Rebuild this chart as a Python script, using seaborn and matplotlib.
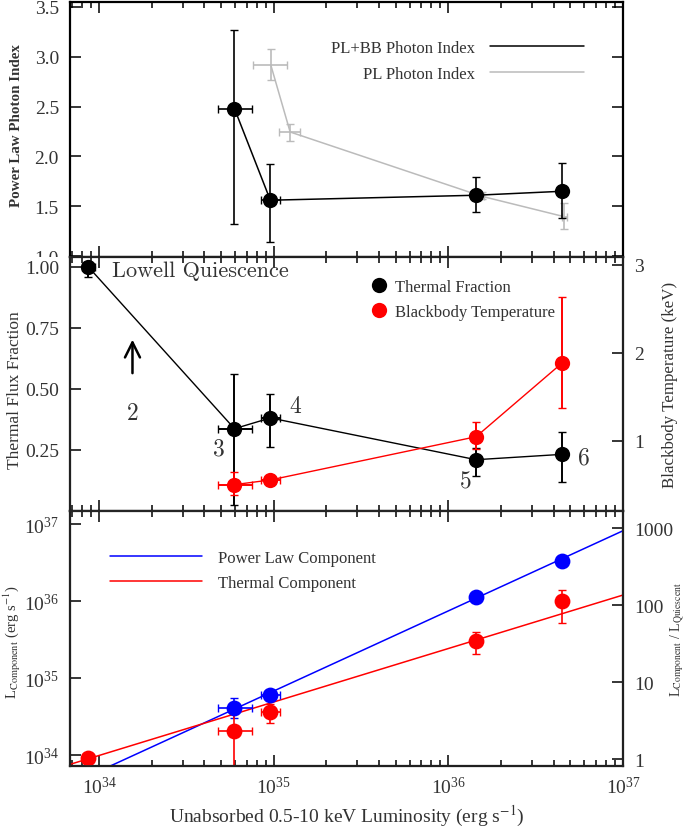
import matplotlib
matplotlib.use("Agg")
import numpy as np
import matplotlib.pyplot as plt
import matplotlib.ticker as mticker
from matplotlib.lines import Line2D
from matplotlib.transforms import Bbox, TransformedBbox
import seaborn as sns

sns.set_theme(style="ticks")
plt.rcParams['font.family'] = ['Liberation Serif', 'DejaVu Serif']
plt.rcParams['mathtext.fontset'] = 'stix'
plt.rcParams['text.color'] = '#333333'
plt.rcParams['axes.labelcolor'] = '#333333'
plt.rcParams['xtick.color'] = 'black'
plt.rcParams['ytick.color'] = 'black'
plt.rcParams['xtick.labelcolor'] = '#333333'
plt.rcParams['ytick.labelcolor'] = '#333333'

# ---- data ----
# unabsorbed 0.5-10 keV luminosity of observations 1, 3, 4, 5, 6
lum = [8.65e33, 5.95e34, 9.55e34, 1.44e36, 4.49e36]
lum_lo = [8.0e33, 4.78e34, 8.4e34, 1.41e36, 4.42e36]
lum_hi = [9.5e33, 7.45e34, 1.08e35, 1.47e36, 4.56e36]

# top: PL+BB photon index (obs 3-6)
gamma_plbb = [2.48, 1.56, 1.61, 1.65]
gamma_plbb_lo = [1.32, 1.14, 1.44, 1.38]
gamma_plbb_hi = [3.27, 1.92, 1.79, 1.93]

# top: PL-only photon index
pl_lum = [9.6e34, 1.24e35, 1.55e36, 4.6e36]
pl_lum_lo = [7.6e34, 1.07e35, 1.50e36, 4.45e36]
pl_lum_hi = [1.19e35, 1.41e35, 1.60e36, 4.75e36]
gamma_pl = [2.92, 2.245, 1.60, 1.395]
gamma_pl_lo = [2.77, 2.15, 1.57, 1.27]
gamma_pl_hi = [3.08, 2.33, 1.64, 1.53]

# middle: thermal flux fraction (obs 1, 3-6) and blackbody kT (obs 3-6)
therm_frac = [1.00, 0.337, 0.381, 0.210, 0.232]
therm_frac_lo = [0.96, 0.026, 0.264, 0.143, 0.120]
therm_frac_hi = [1.00, 0.559, 0.480, 0.260, 0.322]
obs2_lum = 1.55e34          # obs 2: lower limit only
obs2_frac_limit = 0.553
bb_temp = [0.50, 0.553, 1.045, 1.886]
bb_temp_lo = [0.38, 0.52, 0.90, 1.37]
bb_temp_hi = [0.64, 0.59, 1.21, 2.63]
obs_labels = ["3", "4", "5", "6"]

# bottom: component luminosities
l_pl = [4.09e34, 6.1e34, 1.14e36, 3.36e36]      # obs 3-6
l_pl_lo = [3.0e34, 6.1e34, 1.14e36, 3.36e36]
l_pl_hi = [5.6e34, 6.1e34, 1.14e36, 3.36e36]
l_th = [9.2e33, 2.05e34, 3.65e34, 3.05e35, 1.01e36]  # obs 1, 3-6
l_th_lo = [9.2e33, 1e33, 2.58e34, 2.05e35, 5.2e35]
l_th_hi = [9.2e33, 3.4e34, 4.6e34, 4.03e35, 1.41e36]
l_quiescent = 8.9e33
# power-law fits: L_comp = norm * (L / 1e37) ** slope
pl_fit_norm, pl_fit_slope = 8.2e36, 1.04
th_fit_norm, th_fit_slope = 1.2e36, 0.694

xlim = (6.8e33, 1e37)

RED = "#ff0000"
BLUE = "#0000ff"
GREY = "#bbbbbb"


def errs(v, lo, hi):
    v = np.asarray(v); lo = np.asarray(lo); hi = np.asarray(hi)
    return [v - lo, hi - v]


def style_axis(ax):
    ax.tick_params(which="both", direction="in", top=True, width=1.1)
    ax.tick_params(which="major", length=8, labelsize=14)
    ax.tick_params(which="minor", length=4)
    ax.tick_params(axis="y", pad=8)
    ax.tick_params(axis="x", pad=7)
    for s in ax.spines.values():
        s.set_linewidth(1.6)
        s.set_color("black")


fig = plt.figure(figsize=(6.94, 8.28), dpi=100)
L, W = 70 / 694, 553 / 694
ax_top = fig.add_axes([L, 570 / 828, W, 255 / 828])
ax_mid = fig.add_axes([L, 316 / 828, W, 254 / 828], sharex=ax_top)
ax_bot = fig.add_axes([L, 61 / 828, W, 255 / 828], sharex=ax_top)

# ---------------- top panel ----------------
ax = ax_top
ax.set_xscale("log")
sns.lineplot(x=pl_lum, y=gamma_pl, ax=ax, color=GREY, lw=1.1, sort=False,
             estimator=None, label="PL Photon Index")
ax.errorbar(pl_lum, gamma_pl, xerr=errs(pl_lum, pl_lum_lo, pl_lum_hi),
            yerr=errs(gamma_pl, gamma_pl_lo, gamma_pl_hi), fmt="none",
            ecolor=GREY, elinewidth=1.2, capsize=3)
sns.lineplot(x=lum[1:], y=gamma_plbb, ax=ax, color="black", lw=1.1, sort=False,
             estimator=None, marker="o", markersize=11, markeredgewidth=0,
             label="PL+BB Photon Index")
ax.errorbar(lum[1:], gamma_plbb, xerr=errs(lum[1:], lum_lo[1:], lum_hi[1:]),
            yerr=errs(gamma_plbb, gamma_plbb_lo, gamma_plbb_hi), fmt="none",
            ecolor="black", elinewidth=1.2, capsize=3)
ax.set_ylim(0.99, 3.55)
ax.set_yticks([1.0, 1.5, 2.0, 2.5, 3.0, 3.5])
ax.yaxis.set_major_formatter(mticker.FormatStrFormatter("%.1f"))
ax.tick_params(axis="y", right=True)
ax.set_ylabel("Power Law Photon Index", fontsize=10.8, fontweight="bold")
ax.yaxis.set_label_coords(-0.085, 0.52)
h = [Line2D([], [], color="black", lw=1.1), Line2D([], [], color=GREY, lw=1.1)]
ax.legend(h, ["PL+BB Photon Index", "PL Photon Index"], loc="upper right",
          bbox_to_anchor=(0.956, 0.91), frameon=False, markerfirst=False,
          fontsize=12, handlelength=5.6, handletextpad=0.9, labelspacing=0.6)
style_axis(ax)

# ---------------- middle panel ----------------
ax = ax_mid
sns.lineplot(x=lum, y=therm_frac, ax=ax, color="black", lw=1.0, sort=False,
             estimator=None, marker="o", markersize=11, markeredgewidth=0)
ax.errorbar(lum, therm_frac, xerr=errs(lum, lum_lo, lum_hi),
            yerr=errs(therm_frac, therm_frac_lo, therm_frac_hi), fmt="none",
            ecolor="black", elinewidth=1.4, capsize=3, zorder=3)
ax.annotate("", xy=(obs2_lum, obs2_frac_limit + 0.16), xytext=(obs2_lum, obs2_frac_limit),
            arrowprops=dict(arrowstyle="->,head_length=0.9,head_width=0.45", lw=1.8, color="black"))
ax.text(obs2_lum, 0.40, "2", fontsize=17, family="cmr10", ha="center", va="center")
ax.text(1.18e34, 0.985, "Lowell Quiescence", fontsize=16, family="cmr10",
        ha="left", va="center", color="#333333")
label_pos = [(4.84e34, 0.258), (1.33e35, 0.43), (1.26e36, 0.121), (6.0e36, 0.221)]
for t, (px, py) in zip(obs_labels, label_pos):
    ax.text(px, py, t, fontsize=17, family="cmr10", ha="center", va="center", color="#333333")
ax.set_ylim(0, 1.04)
ax.set_yticks([0.25, 0.50, 0.75, 1.00])
ax.yaxis.set_major_formatter(mticker.FormatStrFormatter("%.2f"))
ax.set_ylabel("Thermal Flux Fraction", fontsize=12.5)
ax.yaxis.set_label_coords(-0.085, 0.48)
style_axis(ax)
ax.tick_params(axis="y", right=False)

axr = ax.twinx()
sns.lineplot(x=lum[1:], y=bb_temp, ax=axr, color=RED, lw=1.0, sort=False,
             estimator=None, marker="o", markersize=11, markeredgewidth=0)
axr.errorbar(lum[1:], bb_temp, xerr=errs(lum[1:], lum_lo[1:], lum_hi[1:]),
             yerr=errs(bb_temp, bb_temp_lo, bb_temp_hi), fmt="none",
             ecolor=RED, elinewidth=1.4, capsize=3)
axr.set_ylim(0.2, 3.09)
axr.set_yticks([1, 2, 3])
axr.set_ylabel("Blackbody Temperature (keV)", fontsize=12.2)
axr.yaxis.set_label_coords(1.07, 0.5)
axr.tick_params(axis="y", direction="in", length=8, width=1.1, labelsize=14, pad=8)
axr.tick_params(axis="x", which="both", bottom=False, top=False)
h = [Line2D([], [], color="black", marker="o", ls="none", ms=11, mew=0),
     Line2D([], [], color=RED, marker="o", ls="none", ms=11, mew=0)]
axr.legend(h, ["Thermal Fraction", "Blackbody Temperature"], loc="upper left",
           bbox_to_anchor=(0.517, 0.973), frameon=False, fontsize=12,
           handlelength=1.0, handletextpad=0.45, labelspacing=0.55)

# ---------------- bottom panel ----------------
ax = ax_bot
ax.set_yscale("log")
fit_x = np.array(xlim)
sns.lineplot(x=fit_x, y=pl_fit_norm * (fit_x / 1e37) ** pl_fit_slope, ax=ax,
             color=BLUE, lw=1.1, label="Power Law Component")
sns.lineplot(x=fit_x, y=th_fit_norm * (fit_x / 1e37) ** th_fit_slope, ax=ax,
             color=RED, lw=1.1, label="Thermal Component")
sns.scatterplot(x=lum[1:], y=l_pl, ax=ax, color=BLUE, s=130, linewidth=0, zorder=4)
ax.errorbar(lum[1:], l_pl, xerr=errs(lum[1:], lum_lo[1:], lum_hi[1:]),
            yerr=errs(l_pl, l_pl_lo, l_pl_hi), fmt="none", ecolor=BLUE,
            elinewidth=1.2, capsize=3)
sns.scatterplot(x=lum, y=l_th, ax=ax, color=RED, s=130, linewidth=0, zorder=4)
xe = errs(lum, lum_lo, lum_hi)
xe[0][0] = xe[1][0] = 0
ax.errorbar(lum, l_th, xerr=xe, yerr=errs(l_th, l_th_lo, l_th_hi), fmt="none",
            ecolor=RED, elinewidth=1.2, capsize=3)
ax.set_xlim(*xlim)
ax.set_ylim(7.24e33, 1.48e37)
ax.xaxis.set_major_locator(mticker.LogLocator(base=10, numticks=10))
ax.xaxis.set_minor_locator(mticker.LogLocator(base=10, subs=np.arange(2, 10), numticks=10))
ax.xaxis.set_minor_formatter(mticker.NullFormatter())
ax.yaxis.set_major_locator(mticker.LogLocator(base=10, numticks=10))
ax.yaxis.set_minor_locator(mticker.NullLocator())
ax.set_xlabel(r"Unabsorbed 0.5-10 keV Luminosity (erg s$^{\mathrm{-1}}$)", fontsize=14)
ax.xaxis.set_label_coords(0.5, -0.145)
ax.set_ylabel(r"L$_{\mathrm{Component}}$ (erg s$^{\mathrm{-1}}$)", fontsize=10.5)
ax.yaxis.set_label_coords(-0.085, 0.49)
ax.legend(loc="upper left", bbox_to_anchor=(0.045, 0.906), frameon=False,
          fontsize=12, handlelength=5.5, handletextpad=1.0, labelspacing=0.55)
style_axis(ax)
ax.tick_params(axis="y", right=False)

axr = ax.twinx()
axr.set_yscale("log")
axr.set_ylim(7.24e33 / l_quiescent, 1.48e37 / l_quiescent)
axr.set_yticks([1, 10, 100, 1000])
axr.yaxis.set_major_formatter(mticker.FuncFormatter(lambda v, p: f"{v:g}"))
axr.yaxis.set_minor_locator(mticker.NullLocator())
axr.set_ylabel(r"L$_{\mathrm{Component}}$ / L$_{\mathrm{Quiescent}}$", fontsize=10)
axr.yaxis.set_label_coords(1.081, 0.5)
axr.tick_params(axis="y", direction="in", length=8, width=1.1, labelsize=14, pad=8)

for a in (ax_top, ax_mid):
    a.tick_params(which="both", labelbottom=False)

# clip the top panel's lowest tick label at the panel edge, as in the original
clip = TransformedBbox(Bbox([[0, 570 / 828], [1, 1]]), fig.transFigure)
for t in ax_top.yaxis.get_major_ticks():
    t.label1.set_clip_on(True)
    t.label1.set_clip_box(clip)

fig.savefig("out.png", dpi=100)
